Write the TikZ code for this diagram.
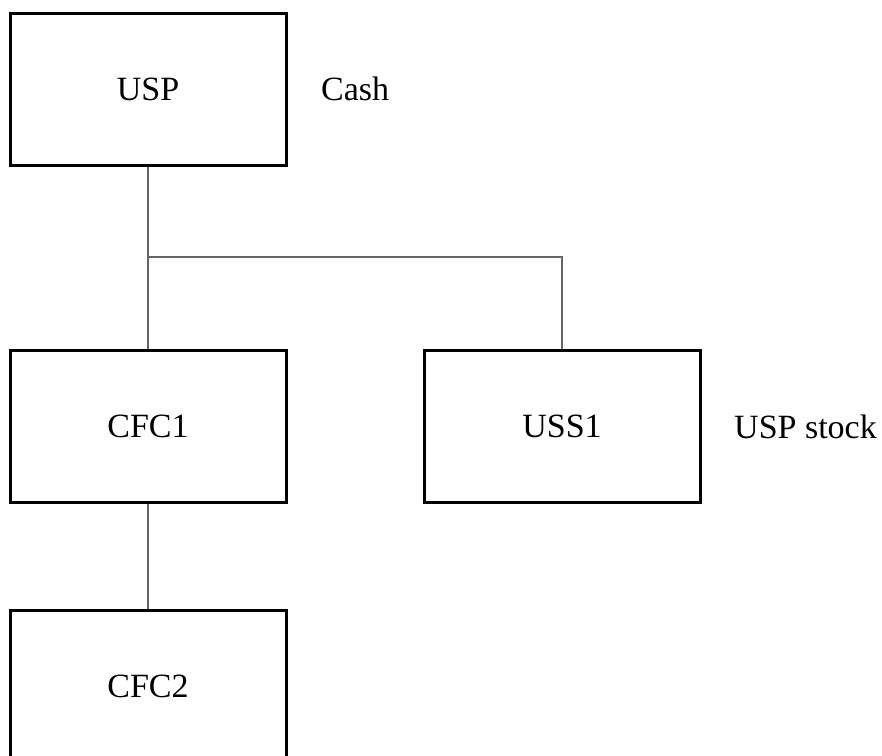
\documentclass[tikz,border=0pt]{standalone}
\usepackage{fontspec}
\setmainfont{Liberation Serif}
\usepackage{tikz}

\tikzset{
  entity/.style={draw, line width=3pt, minimum width=276pt, minimum height=152pt, inner sep=0pt},
  link/.style={draw=black!60, line width=1.2pt}
}

\begin{document}
\begin{tikzpicture}[x=1pt, y=-1pt, font=\fontsize{34}{40}\selectfont]
        \useasboundingbox (0,0) rectangle (882,755);
        % Draw boxes
        \node[entity] (usp) at (148,89.5) {USP};
        \node[entity] (cfc1) at (148,426) {CFC1};
        \node[entity] (uss1) at (562,426) {USS1};
        \node[entity] (cfc2) at (148,686) {CFC2};
        % Draw labels
        \node[anchor=west, inner sep=0pt] (cash) at (321,89) {Cash};
        \node[anchor=west, inner sep=0pt] (uspstock) at (734,427) {USP stock};
        % Draw links
        \coordinate (split) at (148,257);
        \draw[link] (usp.south) -- (split) -- (cfc1.north);
        \draw[link] (split) -| (uss1.north);
        \draw[link] (cfc1.south) -- (cfc2.north);
    \end{tikzpicture}
\end{document}
